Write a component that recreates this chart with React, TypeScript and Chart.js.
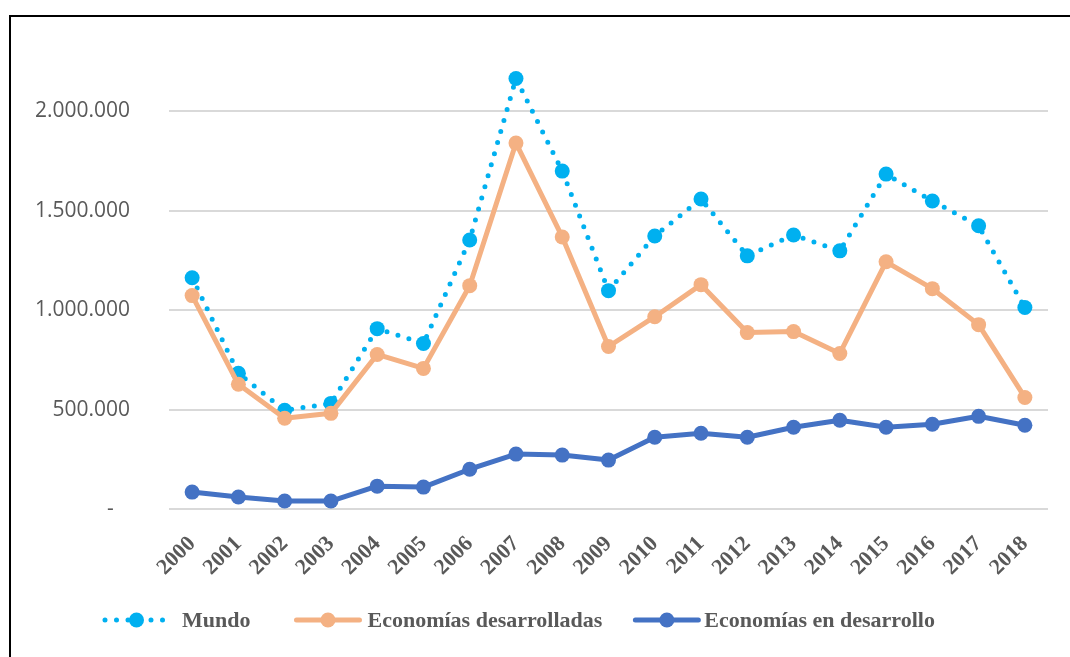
import React, { useEffect, useRef } from 'react';
import { Chart, registerables } from 'chart.js';

Chart.register(...registerables);

const years = ['2000', '2001', '2002', '2003', '2004', '2005', '2006', '2007', '2008', '2009', '2010', '2011', '2012', '2013', '2014', '2015', '2016', '2017', '2018'];
const mundo = [1163000, 682000, 496000, 531000, 907000, 832000, 1353000, 2165000, 1699000, 1098000, 1373000, 1559000, 1273000, 1378000, 1298000, 1684000, 1549000, 1424000, 1013000];
const desarrolladas = [1073000, 627000, 456000, 481000, 777000, 707000, 1123000, 1840000, 1368000, 817000, 967000, 1128000, 887000, 892000, 782000, 1243000, 1108000, 927000, 561000];
const enDesarrollo = [85000, 60000, 40000, 40000, 115000, 110000, 200000, 276000, 271000, 246000, 361000, 381000, 361000, 411000, 446000, 411000, 426000, 466000, 421000];
const seriesNames = ['Mundo', 'Economías desarrolladas', 'Economías en desarrollo'];
const yTickValues = [0, 500000, 1000000, 1500000, 2000000];

const TEXT = '#595959';

function fmt(v: number): string {
  if (v === 0) return '-   ';
  return String(Math.round(v)).replace(/\B(?=(\d{3})+(?!\d))/g, '.');
}

const legendPlugin = {
  id: 'customLegend',
  afterDraw(chart: any) {
    const ctx = chart.ctx as CanvasRenderingContext2D;
    ctx.save();
    ctx.font = 'bold 22px "Liberation Serif", "Times New Roman", serif';
    ctx.textBaseline = 'middle';
    let x = 105;
    const y = 620;
    const textGaps = [14, 8, 6];
    const itemGaps = [46, 33, 0];
    chart.data.datasets.forEach((ds: any, i: number) => {
      const len = 63;
      ctx.strokeStyle = ds.borderColor;
      ctx.lineWidth = ds.borderWidth;
      ctx.lineCap = 'round';
      ctx.setLineDash(ds.borderDash || []);
      ctx.beginPath();
      ctx.moveTo(x, y);
      ctx.lineTo(x + len, y);
      ctx.stroke();
      ctx.setLineDash([]);
      ctx.fillStyle = ds.pointBackgroundColor;
      ctx.beginPath();
      ctx.arc(x + len / 2, y, 7.5, 0, Math.PI * 2);
      ctx.fill();
      const tx = x + len + textGaps[i];
      ctx.fillStyle = TEXT;
      ctx.textAlign = 'left';
      ctx.fillText(ds.label, tx, y + 1);
      x = tx + ctx.measureText(ds.label).width + itemGaps[i];
    });
    ctx.restore();
  },
};

export default function App() {
  const ref = useRef<HTMLCanvasElement | null>(null);
  useEffect(() => {
    if (!ref.current) return;
    const chart = new Chart(ref.current, {
      type: 'line',
      data: {
        labels: years,
        datasets: [
          {
            label: seriesNames[0],
            data: mundo,
            borderColor: '#00B0F0',
            backgroundColor: '#00B0F0',
            pointBackgroundColor: '#00B0F0',
            pointBorderColor: '#00B0F0',
            borderWidth: 5,
            borderDash: [0, 11.5],
            borderCapStyle: 'round',
            pointRadius: 7.5,
            pointBorderWidth: 0,
            tension: 0,
            order: 3,
          },
          {
            label: seriesNames[1],
            data: desarrolladas,
            borderColor: '#F4B183',
            backgroundColor: '#F4B183',
            pointBackgroundColor: '#F4B183',
            pointBorderColor: '#F4B183',
            borderWidth: 5,
            borderCapStyle: 'round',
            borderJoinStyle: 'round',
            pointRadius: 7.5,
            pointBorderWidth: 0,
            tension: 0,
            order: 2,
          },
          {
            label: seriesNames[2],
            data: enDesarrollo,
            borderColor: '#4472C4',
            backgroundColor: '#4472C4',
            pointBackgroundColor: '#4472C4',
            pointBorderColor: '#4472C4',
            borderWidth: 5,
            borderCapStyle: 'round',
            borderJoinStyle: 'round',
            pointRadius: 7.5,
            pointBorderWidth: 0,
            tension: 0,
            order: 1,
          },
        ],
      },
      options: {
        responsive: false,
        animation: false,
        devicePixelRatio: 1,
        layout: { padding: { left: 0, right: 22, top: 50, bottom: 48 } },
        plugins: {
          legend: { display: false },
          tooltip: { enabled: false },
        },
        scales: {
          x: {
            offset: true,
            grid: { display: false },
            border: { display: false },
            ticks: {
              autoSkip: false,
              minRotation: 45,
              maxRotation: 45,
              padding: 14,
              color: TEXT,
              font: { family: '"Liberation Serif", "Times New Roman", serif', size: 22, weight: 'bold' },
            },
            afterFit: (s: any) => {
              s.height = 100;
            },
          },
          y: {
            min: 0,
            max: 2300000,
            grid: { color: '#D9D9D9', lineWidth: 2, drawTicks: false },
            border: { display: false },
            ticks: {
              stepSize: 500000,
              padding: 39,
              color: TEXT,
              font: { family: '"Open Sans", sans-serif', size: 21 },
              callback: (v: any) => fmt(Number(v)),
            },
            afterBuildTicks: (s: any) => {
              s.ticks = yTickValues.map((v) => ({ value: v }));
            },
            afterFit: (s: any) => {
              s.width = 169;
            },
          },
        },
      },
      plugins: [legendPlugin],
    });
    return () => chart.destroy();
  }, []);

  return (
    <div style={{ position: 'absolute', left: 0, top: 0, width: 1070, height: 657, overflow: 'hidden', background: '#fff' }}>
      <div
        style={{
          position: 'absolute',
          left: 9,
          top: 15,
          width: 1100,
          height: 700,
          borderLeft: '2px solid #000',
          borderTop: '2px solid #000',
        }}
      />
      <canvas ref={ref} width={1070} height={657} style={{ position: 'absolute', left: 0, top: 0, width: 1070, height: 657 }} />
    </div>
  );
}
